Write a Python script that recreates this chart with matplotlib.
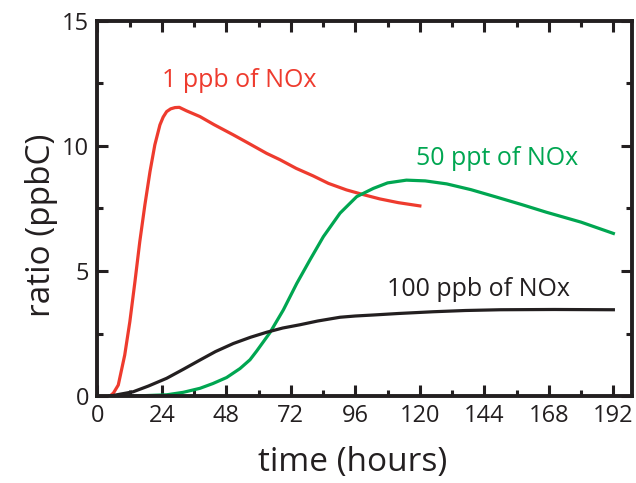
import matplotlib
matplotlib.use('Agg')
import matplotlib.pyplot as plt
from matplotlib.ticker import MultipleLocator

plt.rcParams['font.family'] = ['Open Sans', 'DejaVu Sans']

# 1 ppb of NOx (red)
red_t = [4.7, 6.0, 7.8, 10.2, 12.1, 14.0, 15.8, 17.7, 19.6, 21.4, 23.3, 24.5, 25.8, 27.3, 28.9, 30.5,
         33.2, 38.2, 43.4, 50.6, 55.5, 63, 67.9, 74, 80.3, 86, 92.7, 99, 105.1, 112, 120]
red_y = [0.0, 0.12, 0.44, 1.64, 2.97, 4.57, 6.17, 7.64, 8.97, 10.04, 10.84, 11.15, 11.37, 11.48, 11.53, 11.54,
         11.4, 11.17, 10.85, 10.44, 10.15, 9.7, 9.45, 9.1, 8.8, 8.5, 8.24, 8.05, 7.88, 7.73, 7.6]

# 50 ppt of NOx (green)
green_t = [4.7, 13.3, 25.8, 32, 38.2, 43, 48.1, 53.1, 56.8, 59.3, 64.2, 69.2, 74.2, 79.1, 84.1,
           90.3, 96.5, 102.7, 108, 115, 122, 130, 139, 148.6, 158, 167, 180, 192]
green_y = [0.0, 0.0, 0.05, 0.15, 0.31, 0.5, 0.74, 1.1, 1.45, 1.8, 2.53, 3.44, 4.5, 5.44, 6.37,
           7.31, 7.97, 8.3, 8.52, 8.63, 8.6, 8.48, 8.25, 7.95, 7.65, 7.35, 6.95, 6.5]

# 100 ppb of NOx (black)
black_t = [4.7, 13.3, 19, 25.8, 32, 38.2, 44, 50.6, 57, 63, 69, 75.4, 82, 90.3, 96, 102.7,
           112, 125, 137, 150, 170, 192]
black_y = [0.0, 0.17, 0.4, 0.71, 1.07, 1.44, 1.78, 2.1, 2.35, 2.55, 2.72, 2.85, 3.0, 3.15, 3.2,
           3.24, 3.3, 3.37, 3.42, 3.45, 3.46, 3.45]

red = '#EE3B2E'
green = '#00A651'
black = '#231F20'

fig = plt.figure(figsize=(6.36, 4.83), dpi=100)
ax = fig.add_axes([0.153, 0.180, 0.841, 0.777])

ax.plot(red_t, red_y, color=red, lw=2.3, solid_joinstyle='round')
ax.plot(green_t, green_y, color=green, lw=2.3, solid_joinstyle='round')
ax.plot(black_t, black_y, color=black, lw=2.3, solid_joinstyle='round')

ax.text(52.7, 12.6, '1 ppb of NOx', color=red, fontsize=18, ha='center', va='center')
ax.text(148.6, 9.48, '50 ppt of NOx', color=green, fontsize=18, ha='center', va='center')
ax.text(142, 4.24, '100 ppb of NOx', color=black, fontsize=18, ha='center', va='center')

ax.set_xlim(0, 199)
ax.set_ylim(0, 15)
ax.xaxis.set_major_locator(MultipleLocator(24))
ax.xaxis.set_minor_locator(MultipleLocator(12))
ax.yaxis.set_major_locator(MultipleLocator(5))
ax.yaxis.set_minor_locator(MultipleLocator(2.5))
ax.tick_params(which='both', direction='in', top=True, right=True, colors=black,
               labelsize=17, width=2.2, pad=6)
ax.tick_params(which='major', length=8)
ax.tick_params(which='minor', length=4)
for s in ax.spines.values():
    s.set_linewidth(2.8)
    s.set_color(black)

ax.set_xlabel('time (hours)', fontsize=24, color=black, va='center')
ax.set_ylabel('ratio (ppbC)', fontsize=24, color=black, va='center', ha='center')
ax.xaxis.set_label_coords(0.478, -0.176)
ax.yaxis.set_label_coords(-0.104, 0.456)

plt.savefig('out.png', dpi=100)
